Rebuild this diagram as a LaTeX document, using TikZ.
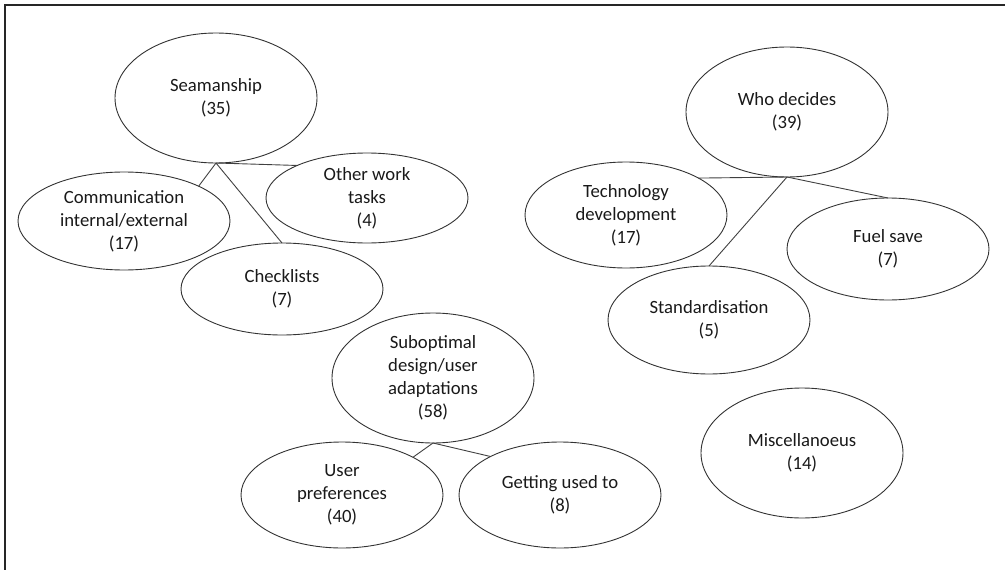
\documentclass[tikz,border=0pt]{standalone}
\usepackage{fontspec}
\setmainfont{Carlito}
\usetikzlibrary{shapes.geometric}
\begin{document}
\begin{tikzpicture}[x=1pt,y=-1pt,
  oval/.style={ellipse, draw=black!80, line width=0.9pt, inner sep=0pt, outer sep=0pt,
    minimum width=202pt},
  txt/.style={align=center, font=\fontsize{18.7pt}{23pt}\selectfont, text=black!90, inner sep=0pt},
  link/.style={draw=black!75, line width=0.9pt}]
  \useasboundingbox (0,0) rectangle (1005,570);
  % open frame: top and left edges only
  \draw[line width=2pt, black!85] (5,570) -- (5,5) -- (1005,5);

  % Seamanship cluster
  \node[oval, minimum height=130pt, label={[txt]center:Seamanship\\(35)}] (seam) at (216,98) {};
  \node[oval, minimum width=212pt, minimum height=98pt, label={[txt]center:Communication\\internal/external\\(17)}] (comm) at (124,221) {};
  \node[oval, minimum height=90pt, label={[txt]center:Other work\\tasks\\(4)}] (oth) at (367,198) {};
  \node[oval, minimum height=92pt, label={[txt]center:Checklists\\(7)}] (chk) at (282,289) {};

  % Who decides cluster
  \node[oval, minimum height=130pt, label={[txt]center:Who decides\\(39)}] (who) at (787,112) {};
  \node[oval, minimum height=106pt, label={[txt]center:Technology\\development\\(17)}] (tech) at (626,215) {};
  \node[oval, minimum height=102pt, label={[txt]center:Fuel save\\(7)}] (fuel) at (888,249) {};
  \node[oval, minimum height=108pt, label={[txt]center:Standardisation\\(5)}] (std) at (709,320) {};

  % Suboptimal design cluster
  \node[oval, minimum height=130pt, label={[txt]center:Suboptimal\\design/user\\adaptations\\(58)}] (sub) at (433,378) {};
  \node[oval, minimum height=106pt, label={[txt]center:User\\preferences\\(40)}] (usr) at (342,495) {};
  \node[oval, minimum height=106pt, label={[txt]center:Getting used to\\(8)}] (get) at (560,495) {};

  % standalone theme
  \node[oval, minimum height=130pt, label={[txt]center:Miscellanoeus\\(14)}] (misc) at (802,453) {};

  % connectors
  \draw[link] (seam.south) -- (comm.25);
  \draw[link] (seam.south) -- (oth.155);
  \draw[link] (seam.south) -- (chk.north);
  \draw[link] (who.south) -- (tech.27);
  \draw[link] (who.south) -- (fuel.north);
  \draw[link] (who.south) -- (std.north);
  \draw[link] (sub.south) -- (usr.28);
  \draw[link] (sub.south) -- (get.151);
\end{tikzpicture}
\end{document}
